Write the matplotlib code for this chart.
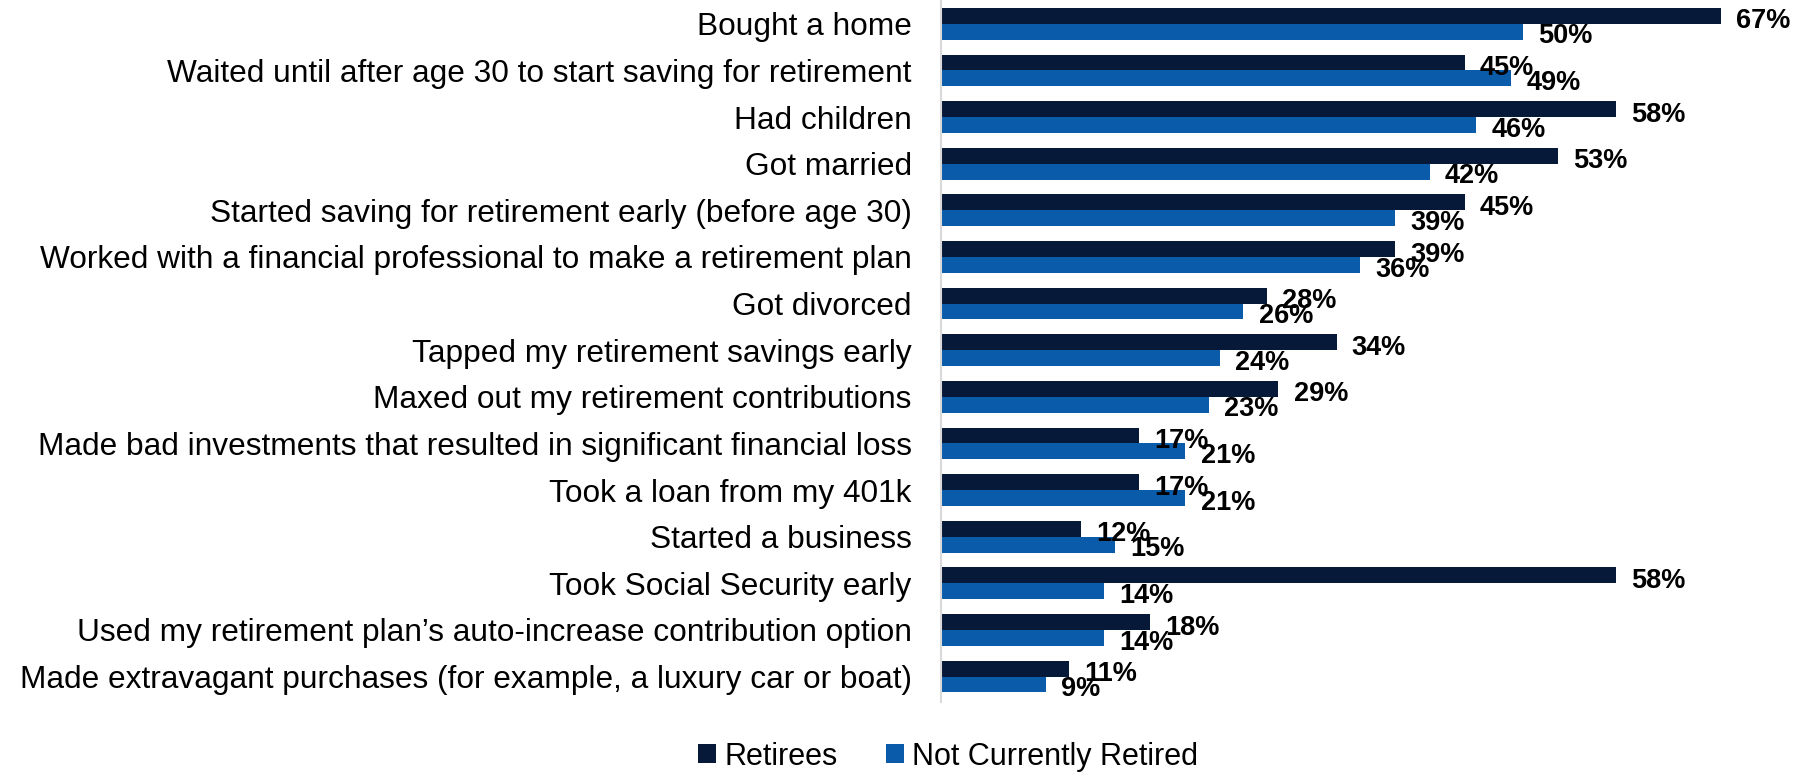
import matplotlib
matplotlib.use("Agg")
import matplotlib.pyplot as plt
import numpy as np

plt.rcParams['font.family'] = ['Liberation Sans', 'DejaVu Sans']

# categories, top to bottom
categories = [
    "Bought a home",
    "Waited until after age 30 to start saving for retirement",
    "Had children",
    "Got married",
    "Started saving for retirement early (before age 30)",
    "Worked with a financial professional to make a retirement plan",
    "Got divorced",
    "Tapped my retirement savings early",
    "Maxed out my retirement contributions",
    "Made bad investments that resulted in significant financial loss",
    "Took a loan from my 401k",
    "Started a business",
    "Took Social Security early",
    "Used my retirement plan\u2019s auto-increase contribution option",
    "Made extravagant purchases (for example, a luxury car or boat)",
]
retirees = [67, 45, 58, 53, 45, 39, 28, 34, 29, 17, 17, 12, 58, 18, 11]
not_retired = [50, 49, 46, 42, 39, 36, 26, 24, 23, 21, 21, 15, 14, 14, 9]

c_ret = "#061938"
c_not = "#0A5BAA"

fig = plt.figure(figsize=(17.99, 7.72), dpi=100)
ax = fig.add_axes([0.523, 0.091, 0.467, 0.909])

y = np.arange(len(categories))
h = 0.34
b1 = ax.barh(y - h / 2, retirees, height=h, color=c_ret, label="Retirees")
b2 = ax.barh(y + h / 2, not_retired, height=h, color=c_not, label="Not Currently Retired")

# value labels (outside end, like the original)
for bars, vals, dy in [(b1, retirees, 0.12), (b2, not_retired, 0.1)]:
    for bar, v in zip(bars, vals):
        ax.annotate(f"{v}%", (bar.get_width(), bar.get_y() + bar.get_height() / 2 + dy),
                    xytext=(11, 0), textcoords="offset points",
                    ha="left", va="center", fontsize=19.5, fontweight="bold", color="black")

ax.set_xlim(0, 72.2)
ax.set_ylim(14.54, -0.51)
ax.set_yticks(y)
ax.set_yticklabels(categories, fontsize=22.8)
ax.tick_params(axis="y", length=0, pad=21)
ax.set_xticks([])
for s in ["top", "right", "bottom"]:
    ax.spines[s].set_visible(False)
ax.spines["left"].set_color("#D9D9D9")
ax.spines["left"].set_linewidth(1.5)

fig.legend(handles=[b1, b2], loc="center", bbox_to_anchor=(0.527, 0.02), ncol=2,
           frameon=False, fontsize=22, handlelength=0.6, handleheight=0.6,
           handletextpad=0.25, columnspacing=1.6)

fig.savefig("out.png", dpi=100)
